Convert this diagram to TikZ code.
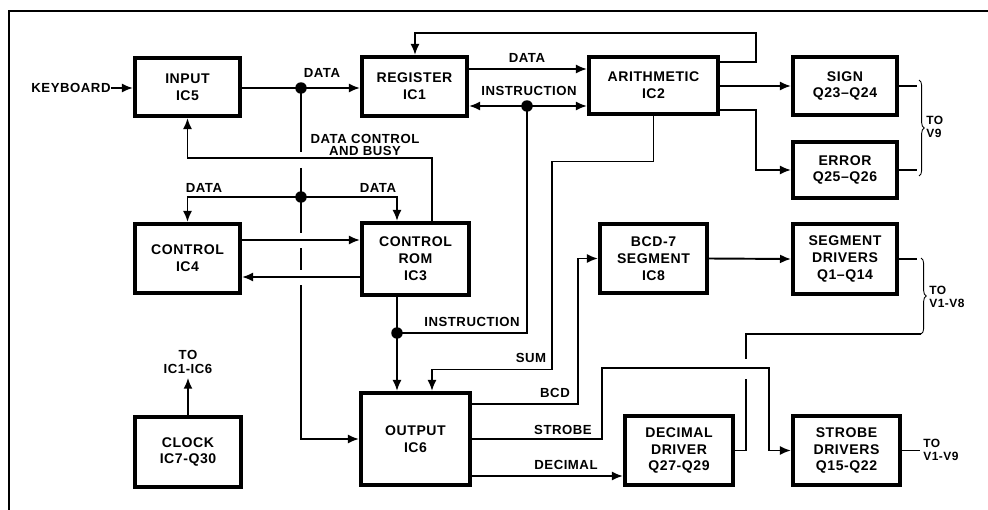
\documentclass[tikz,border=0pt]{standalone}
\usepackage{fontspec}
\setmainfont{Liberation Sans}[LetterSpace=4.0]
\usetikzlibrary{arrows.meta,calc,decorations.pathreplacing}
\tikzset{
  blk/.style={rectangle,draw,line width=2.3pt,align=center,inner sep=2pt,
    font=\fontsize{8}{9.6}\selectfont\bfseries},
  wire/.style={line width=1.1pt},
  arr/.style={wire,-{Latex[length=2.2mm,width=1.8mm]}},
  darr/.style={wire,{Latex[length=2.2mm,width=1.8mm]}-{Latex[length=2.2mm,width=1.8mm]}},
  lbl/.style={font=\fontsize{7.5}{8.2}\selectfont\bfseries,inner sep=0pt,align=center},
  tolbl/.style={font=\fontsize{6.8}{7.4}\selectfont\bfseries,inner sep=0pt,align=left,anchor=west},
  dot/.style={circle,fill,inner sep=0pt,minimum size=2.3mm},
  brc/.style={decorate,decoration={brace,amplitude=3pt},line width=0.5pt}
}
\begin{document}
\begin{tikzpicture}[x=0.02cm,y=-0.02cm]
  \useasboundingbox (0,0) rectangle (988,510);
  % frame
  \draw[line width=1.7pt] (8,11) -- (988,11);
  \draw[line width=1.7pt] (9,11) -- (9,510);
  % blocks
  \node[blk,minimum width=2.1cm,minimum height=1.16cm] (input) at (187.5,87) {INPUT\\IC5};
  \node[blk,minimum width=2.1cm,minimum height=1.18cm] (register) at (414.5,86.5) {REGISTER\\IC1};
  \node[blk,minimum width=2.58cm,minimum height=1.14cm] (arith) at (653.5,85.5) {ARITHMETIC\\IC2};
  \node[blk,minimum width=2.08cm,minimum height=1.16cm] (sign) at (845,86) {SIGN\\Q23--Q24};
  \node[blk,minimum width=2.08cm,minimum height=1.12cm] (error) at (845,170) {ERROR\\Q25--Q26};
  \node[blk,minimum width=2.1cm,minimum height=1.38cm] (control) at (187.5,258.5) {CONTROL\\IC4};
  \node[blk,minimum width=2.14cm,minimum height=1.44cm] (rom) at (415.5,259) {CONTROL\\ROM\\IC3};
  \node[blk,minimum width=2.14cm,minimum height=1.38cm] (bcd) at (653.5,258.5) {BCD-7\\SEGMENT\\IC8};
  \node[blk,minimum width=2.08cm,minimum height=1.4cm] (segdrv) at (845,259) {SEGMENT\\DRIVERS\\Q1--Q14};
  \node[blk,minimum width=2.12cm,minimum height=1.4cm] (clock) at (188,452) {CLOCK\\IC7-Q30};
  \node[blk,minimum width=2.18cm,minimum height=1.84cm] (output) at (415.5,439) {OUTPUT\\IC6};
  \node[blk,minimum width=2.16cm,minimum height=1.38cm] (decdrv) at (679,450.5) {DECIMAL\\DRIVER\\Q27-Q29};
  \node[blk,minimum width=2.14cm,minimum height=1.38cm] (strdrv) at (846.5,450.5) {STROBE\\DRIVERS\\Q15-Q22};
  % junctions and brace ends
  \coordinate (jin) at (301,88);
  \coordinate (jctl) at (301,197);
  \coordinate (jins) at (527,106);
  \coordinate (jrom) at (397,333);
  \coordinate (b1top) at (919,80);
  \coordinate (b1bot) at (919,176);
  \coordinate (b2top) at (921,258);
  \coordinate (b2bot) at (921,334);
  % labels
  \node[lbl] (kbd) at (71,88) {KEYBOARD};
  \node[lbl] (ldata1) at (322,73) {DATA};
  \node[lbl] (ldata2) at (527,58) {DATA};
  \node[lbl] (linstr1) at (529,91) {INSTRUCTION};
  \node[lbl] (lbusy) at (365,145) {DATA CONTROL\\[-1pt]AND BUSY};
  \node[lbl] (ldata3) at (204,188) {DATA};
  \node[lbl] (ldata4) at (378,188) {DATA};
  \node[lbl] (linstr2) at (472,322) {INSTRUCTION};
  \node[lbl] (lsum) at (531,358) {SUM};
  \node[lbl] (lbcd) at (555,393) {BCD};
  \node[lbl] (lstrobe) at (563,430) {STROBE};
  \node[lbl] (ldec) at (566,465) {DECIMAL};
  \node[lbl,inner sep=2pt] (toic) at (188,362) {TO\\IC1-IC6};
  \node[tolbl] (tov9) at (926,127) {TO\\V9};
  \node[tolbl] (tov8) at (929,297) {TO\\V1-V8};
  \node[tolbl] (tov19) at (923,450) {TO\\V1-V9};
  % input side
  \draw[arr] (kbd.east) -- (input.west|-kbd.east);
  \draw[arr] (input.east|-jin) -- (register.west|-jin);
  \draw[wire] (jin) -- ++(0,64);
  \draw[wire] ($(jctl)+(0,-29)$) -- ($(jctl)+(0,36)$);
  \draw[wire] ($(jctl)+(0,51)$) -- ($(jctl)+(0,73)$);
  \draw[arr] ($(jctl)+(0,88)$) |- (output.west);
  \draw[arr] (jctl) -| (control.north);
  \draw[arr] (jctl) -| ($(rom.north)+(-18.5,0)$);
  \draw[arr] ($(rom.north)+(16.5,0)$) -- ++(0,-63) -| (input.south);
  \draw[arr] ($(control.east)+(0,-18.5)$) -- ($(rom.west)+(0,-19)$);
  \draw[arr] ($(rom.west)+(0,18)$) -- ($(control.east)+(0,18.5)$);
  % register and arithmetic
  \draw[arr] ($(register.east)+(0,-17.5)$) coordinate (rd) -- (rd-|arith.west);
  \draw[darr] (register.east|-jins) -- (arith.west|-jins);
  \draw[wire] (jins) |- (jrom);
  \draw[arr] ($(rom.south)+(-18.5,0)$) -- ($(output.north)+(-18.5,0)$);
  \draw[arr] ($(arith.east)+(0,-23.5)$) -- ++(36,0) -- ++(0,-29) -| ($(register.north)+(0.5,0)$);
  \draw[arr] (arith.east|-sign.west) -- (sign.west);
  \draw[arr] ($(arith.east)+(0,24.5)$) -- ++(36,0) |- (error.west);
  \draw[arr] (arith.south) -- ++(0,45.5) -- ++(-101.5,0) -- ++(0,208) -| ($(output.north)+(16.5,0)$);
  % output side
  \draw[arr] ($(output.east)+(0,-35)$) -- ++(106,0) |- (bcd.west);
  \draw[arr] (bcd.east) -- (segdrv.west);
  \draw[arr] (output.east) -- ++(130,0) -- ++(0,-71) -- ++(167,0) |- (strdrv.west);
  \draw[arr] ($(output.east)+(0,37)$) coordinate (od) -- (od-|decdrv.west);
  \draw[wire] (decdrv.east) -- ++(11,0) coordinate (dd) -- ++(0,-72);
  \draw[wire] ($(dd)+(0,-92)$) |- (b2bot);
  \draw[arr] (clock.north) -- (toic.south);
  % outputs to the display
  \draw[wire] (sign.east) -- ++(18,0);
  \draw[wire] (error.east) -- ++(18,0);
  \draw[wire] (segdrv.east) -- ++(18,0);
  \draw[wire] (strdrv.east) -- ++(18,0);
  \draw[brc] (b1top) -- (b1bot);
  \draw[brc] (b2top) -- (b2bot);
  % junction dots
  \foreach \j in {jin,jctl,jins,jrom} \node[dot] at (\j) {};
\end{tikzpicture}
\end{document}
